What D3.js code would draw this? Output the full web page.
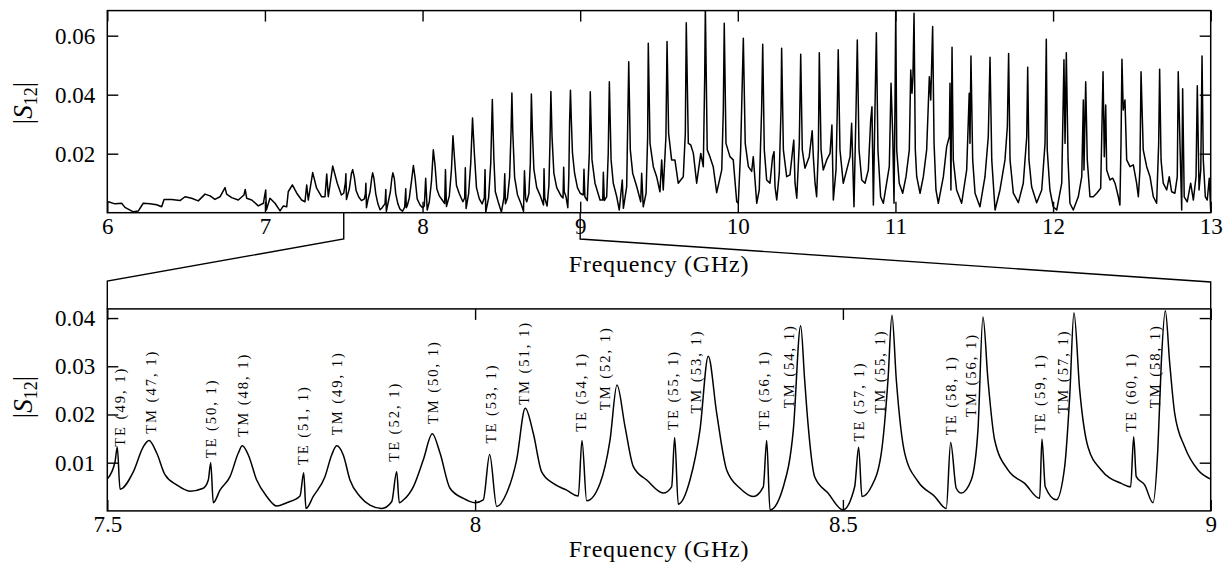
<!DOCTYPE html>
<html>
<head>
<meta charset="utf-8">
<script src="https://cdn.jsdelivr.net/npm/d3@7"></script>
<style>
  body { margin: 0; background: #fff; }
  svg { display: block; }
</style>
</head>
<body>
<svg id="chart" width="1228" height="564"></svg>
<script>
// Measured transmission |S12| versus frequency (GHz), stored as [frequency, |S12|].
// 6 – 7.5 GHz
const lowBand = [
  [6.000,0.0038],[6.006,0.0037],[6.049,0.0030],[6.091,0.0032],[6.112,0.0018],[6.165,0.0003],
  [6.197,0.0006],[6.228,0.0032],[6.271,0.0030],[6.313,0.0027],[6.345,0.0020],[6.360,0.0045],
  [6.409,0.0045],[6.461,0.0041],[6.493,0.0054],[6.535,0.0049],[6.577,0.0040],[6.620,0.0063],
  [6.652,0.0057],[6.683,0.0045],[6.715,0.0054],[6.747,0.0085],[6.757,0.0063],[6.789,0.0051],
  [6.831,0.0043],[6.867,0.0060],[6.875,0.0079],[6.884,0.0049],[6.916,0.0043],[6.958,0.0023],
  [6.990,0.0032],[7.005,0.0077],[7.009,0.0009],[7.032,0.0049],[7.064,0.0032],[7.096,0.0006],
  [7.117,0.0023],[7.138,0.0020],[7.148,0.0071],[7.174,0.0094],[7.202,0.0066],[7.233,0.0043],
  [7.254,0.0037],[7.265,0.0094],[7.275,0.0043],[7.303,0.0136],[7.328,0.0083],[7.360,0.0054],
  [7.381,0.0054],[7.392,0.0131],[7.402,0.0054],[7.430,0.0158],[7.459,0.0100],[7.485,0.0060]
];

// 7.5 – 9 GHz (shown enlarged in the lower panel)
const zoomBand = [
  [7.5000,0.0066],[7.5105,0.0102],[7.5136,0.0132],[7.5173,0.0045],[7.5353,0.0081],[7.5489,0.0133],
  [7.5567,0.0146],[7.5672,0.0120],[7.5784,0.0075],[7.5943,0.0054],[7.6124,0.0041],[7.6305,0.0047],
  [7.6373,0.0064],[7.6406,0.0100],[7.6441,0.0017],[7.6532,0.0043],[7.6668,0.0071],[7.6781,0.0120],
  [7.6835,0.0135],[7.6917,0.0116],[7.7031,0.0064],[7.7167,0.0030],[7.7303,0.0010],[7.7439,0.0017],
  [7.7620,0.0031],[7.7670,0.0079],[7.7701,0.0005],[7.7800,0.0030],[7.7959,0.0071],[7.8050,0.0116],
  [7.8118,0.0135],[7.8208,0.0116],[7.8299,0.0064],[7.8435,0.0030],[7.8571,0.0012],[7.8730,0.0005],
  [7.8866,0.0019],[7.8934,0.0081],[7.8969,0.0017],[7.9020,0.0022],[7.9160,0.0050],[7.9296,0.0106],
  [7.9418,0.0160],[7.9523,0.0120],[7.9659,0.0047],[7.9840,0.0026],[7.9999,0.0017],[8.0111,0.0023],
  [8.0198,0.0117],[8.0294,0.0009],[8.0429,0.0037],[8.0565,0.0106],[8.0682,0.0213],[8.0791,0.0161],
  [8.0905,0.0081],[8.1063,0.0057],[8.1245,0.0043],[8.1403,0.0031],[8.1453,0.0146],[8.1517,0.0021],
  [8.1698,0.0057],[8.1834,0.0147],[8.1929,0.0261],[8.2038,0.0175],[8.2151,0.0092],[8.2333,0.0064],
  [8.2558,0.0037],[8.2672,0.0050],[8.2713,0.0152],[8.2762,0.0014],[8.2921,0.0064],[8.3057,0.0168],
  [8.3170,0.0321],[8.3284,0.0203],[8.3420,0.0085],[8.3601,0.0047],[8.3782,0.0030],[8.3918,0.0050],
  [8.3964,0.0146],[8.4009,0.0002],[8.4190,0.0050],[8.4326,0.0168],[8.4426,0.0384],[8.4480,0.0272],
  [8.4525,0.0182],[8.4616,0.0071],[8.4797,0.0037],[8.5001,0.0002],[8.5160,0.0050],[8.5214,0.0132],
  [8.5259,0.0030],[8.5386,0.0050],[8.5522,0.0120],[8.5613,0.0272],[8.5667,0.0406],[8.5726,0.0272],
  [8.5840,0.0120],[8.6021,0.0061],[8.6248,0.0030],[8.6405,0.0005],[8.6465,0.0142],[8.6541,0.0047],
  [8.6609,0.0037],[8.6745,0.0064],[8.6836,0.0168],[8.6904,0.0402],[8.6972,0.0272],[8.7063,0.0147],
  [8.7244,0.0085],[8.7471,0.0057],[8.7675,0.0026],[8.7706,0.0149],[8.7751,0.0050],[8.7900,0.0023],
  [8.8015,0.0092],[8.8083,0.0237],[8.8141,0.0411],[8.8219,0.0251],[8.8331,0.0133],[8.8512,0.0085],
  [8.8784,0.0057],[8.8912,0.0050],[8.8953,0.0154],[8.8988,0.0071],[8.9102,0.0054],[8.9215,0.0017],
  [8.9283,0.0133],[8.9328,0.0306],[8.9383,0.0415],[8.9443,0.0306],[8.9510,0.0203],[8.9646,0.0133],
  [8.9827,0.0085],[9.0000,0.0066]
];

// 9 – 13 GHz
const highBand = [
  [9.020,0.0060],[9.024,0.0147],[9.030,0.0054],[9.045,0.0041],[9.058,0.0201],[9.064,0.0410],
  [9.075,0.0179],[9.094,0.0100],[9.126,0.0043],[9.143,0.0043],[9.147,0.0137],[9.153,0.0041],
  [9.168,0.0054],[9.178,0.0201],[9.185,0.0444],[9.196,0.0179],[9.210,0.0100],[9.232,0.0054],
  [9.248,0.0009],[9.267,0.0111],[9.274,0.0015],[9.295,0.0088],[9.308,0.0512],[9.318,0.0213],
  [9.333,0.0134],[9.359,0.0088],[9.384,0.0037],[9.390,0.0134],[9.400,0.0020],[9.418,0.0066],
  [9.428,0.0258],[9.432,0.0574],[9.443,0.0235],[9.464,0.0156],[9.485,0.0122],[9.506,0.0071],
  [9.517,0.0179],[9.527,0.0077],[9.544,0.0258],[9.551,0.0580],[9.561,0.0269],[9.580,0.0179],
  [9.601,0.0179],[9.622,0.0100],[9.654,0.0122],[9.667,0.0269],[9.673,0.0644],[9.686,0.0235],
  [9.701,0.0230],[9.718,0.0201],[9.739,0.0100],[9.765,0.0201],[9.781,0.0156],[9.790,0.0461],
  [9.794,0.0700],[9.806,0.0213],[9.823,0.0190],[9.844,0.0156],[9.866,0.0068],[9.898,0.0145],
  [9.908,0.0348],[9.914,0.0642],[9.925,0.0235],[9.950,0.0190],[9.971,0.0179],[9.993,0.0037],
  [10.003,0.0032],[10.018,0.0213],[10.035,0.0591],[10.047,0.0235],[10.067,0.0156],[10.088,0.0140],
  [10.098,0.0190],[10.120,0.0032],[10.136,0.0077],[10.151,0.0348],[10.158,0.0571],[10.168,0.0213],
  [10.183,0.0111],[10.204,0.0100],[10.221,0.0190],[10.230,0.0207],[10.236,0.0088],[10.247,0.0043],
  [10.263,0.0134],[10.274,0.0348],[10.278,0.0557],[10.289,0.0213],[10.310,0.0122],[10.331,0.0128],
  [10.348,0.0213],[10.355,0.0246],[10.363,0.0100],[10.374,0.0049],[10.390,0.0235],[10.399,0.0537],
  [10.409,0.0213],[10.426,0.0151],[10.453,0.0190],[10.472,0.0278],[10.479,0.0190],[10.490,0.0100],
  [10.500,0.0054],[10.511,0.0213],[10.517,0.0542],[10.528,0.0213],[10.542,0.0145],[10.564,0.0179],
  [10.585,0.0201],[10.597,0.0297],[10.606,0.0043],[10.623,0.0145],[10.631,0.0348],[10.637,0.0552],
  [10.648,0.0213],[10.669,0.0100],[10.691,0.0145],[10.712,0.0190],[10.722,0.0303],[10.737,0.0020],
  [10.750,0.0348],[10.758,0.0585],[10.769,0.0213],[10.786,0.0111],[10.807,0.0100],[10.828,0.0145],
  [10.843,0.0314],[10.851,0.0359],[10.860,0.0026],[10.870,0.0348],[10.879,0.0610],[10.889,0.0213],
  [10.906,0.0054],[10.923,0.0032],[10.944,0.0100],[10.961,0.0156],[10.972,0.0439],[10.983,0.0258],
  [10.991,0.0032],[10.997,0.0359],[11.002,0.0700],[11.008,0.0213],[11.024,0.0100],[11.046,0.0066],
  [11.067,0.0122],[11.088,0.0213],[11.097,0.0484],[11.105,0.0405],[11.111,0.0461],[11.118,0.0676],
  [11.126,0.0213],[11.135,0.0122],[11.156,0.0066],[11.177,0.0122],[11.198,0.0213],[11.215,0.0461],
  [11.224,0.0382],[11.236,0.0631],[11.245,0.0235],[11.257,0.0077],[11.272,0.0032],[11.304,0.0122],
  [11.325,0.0224],[11.342,0.0258],[11.346,0.0439],[11.352,0.0077],[11.359,0.0561],[11.367,0.0179],
  [11.388,0.0077],[11.420,0.0032],[11.452,0.0145],[11.468,0.0405],[11.473,0.0235],[11.479,0.0531],
  [11.490,0.0179],[11.505,0.0066],[11.536,0.0020],[11.568,0.0122],[11.589,0.0258],[11.600,0.0527],
  [11.611,0.0179],[11.632,0.0009],[11.663,0.0077],[11.695,0.0179],[11.710,0.0292],[11.718,0.0540],
  [11.727,0.0179],[11.748,0.0066],[11.780,0.0034],[11.811,0.0100],[11.833,0.0258],[11.839,0.0493],
  [11.847,0.0179],[11.864,0.0088],[11.896,0.0034],[11.928,0.0077],[11.949,0.0235],[11.957,0.0588],
  [11.963,0.0213],[11.980,0.0077],[12.001,0.0020],[12.023,0.0009],[12.055,0.0100],[12.069,0.0518],
  [12.076,0.0235],[12.084,0.0542],[12.095,0.0179],[12.107,0.0032],[12.128,0.0009],[12.160,0.0054],
  [12.182,0.0122],[12.192,0.0382],[12.196,0.0145],[12.207,0.0444],[12.217,0.0179],[12.234,0.0054],
  [12.255,0.0054],[12.277,0.0066],[12.302,0.0083],[12.310,0.0292],[12.317,0.0478],[12.325,0.0190],
  [12.334,0.0365],[12.340,0.0145],[12.361,0.0111],[12.378,0.0117],[12.393,0.0100],[12.414,0.0054],
  [12.424,0.0026],[12.431,0.0235],[12.437,0.0520],[12.445,0.0348],[12.456,0.0382],[12.467,0.0179],
  [12.488,0.0156],[12.509,0.0162],[12.530,0.0100],[12.541,0.0054],[12.551,0.0145],[12.558,0.0478],
  [12.566,0.0325],[12.572,0.0213],[12.594,0.0156],[12.615,0.0122],[12.636,0.0054],[12.657,0.0032],
  [12.670,0.0235],[12.676,0.0486],[12.685,0.0179],[12.699,0.0100],[12.721,0.0077],[12.737,0.0122],
  [12.752,0.0071],[12.773,0.0066],[12.788,0.0122],[12.794,0.0478],[12.805,0.0235],[12.816,0.0009],
  [12.822,0.0420],[12.832,0.0054],[12.851,0.0037],[12.873,0.0100],[12.890,0.0043],[12.907,0.0122],
  [12.915,0.0430],[12.926,0.0077],[12.937,0.0145],[12.945,0.0531],[12.953,0.0179],[12.966,0.0054],
  [12.978,0.0043],[12.991,0.0117],[13.000,0.0009]
];

// Mode identifications in the 7.5 – 9 GHz window: label and anchor (frequency, |S12|)
const modeNames = [
  "TE (49, 1)","TM (47, 1)","TE (50, 1)","TM (48, 1)","TE (51, 1)","TM (49, 1)",
  "TE (52, 1)","TM (50, 1)","TE (53, 1)","TM (51, 1)","TE (54, 1)","TM (52, 1)",
  "TE (55, 1)","TM (53, 1)","TE (56, 1)","TM (54, 1)","TE (57, 1)","TM (55, 1)",
  "TE (58, 1)","TM (56, 1)","TE (59, 1)","TM (57, 1)","TE (60, 1)","TM (58, 1)"
];
const modeFreq = [
  7.5173,7.5590,7.6406,7.6841,7.7664,7.8127,7.8901,7.9432,8.0212,8.0665,8.1436,8.1766,
  8.2686,8.3003,8.3927,8.4271,8.5214,8.5500,8.6465,8.6745,8.7675,8.7992,8.8912,8.9238
];
const modeLevel = [
  0.0133,0.0160,0.0109,0.0154,0.0095,0.0157,0.0102,0.0180,0.0140,0.0220,0.0164,0.0209,
  0.0168,0.0202,0.0168,0.0213,0.0144,0.0202,0.0157,0.0195,0.0161,0.0202,0.0164,0.0213
];

// Axis ticks
const topFreqTicks = [6, 7, 8, 9, 10, 11, 12, 13];
const topS12Ticks = [0.02, 0.04, 0.06];
const zoomFreqTicks = [7.5, 8, 8.5, 9];
const zoomS12Ticks = [0.01, 0.02, 0.03, 0.04];

// ---------------------------------------------------------------------------
const SERIF = "Liberation Serif";
const svg = d3.select("#chart");

const left = 107.3, right = 1210.7;
const xTop = d3.scaleLinear().domain([6, 13]).range([left, right]);
const yTop = d3.scaleLinear().domain([0, 0.0685]).range([212.7, 10.6]);
const xBot = d3.scaleLinear().domain([7.5, 9]).range([left, right]);
const yBot = d3.scaleLinear().domain([0, 0.0419]).range([510.9, 308.9]);

function panel(id, x, y, freqTicks, s12Ticks, fmtX, fmtY) {
  const [y0, y1] = y.range();          // bottom, top
  const [x0, x1] = x.range();
  svg.append("clipPath").attr("id", id)
    .append("rect").attr("x", x0).attr("y", y1).attr("width", x1 - x0).attr("height", y0 - y1);

  const g = svg.append("g");
  const tick = 11;
  const styleAxis = a => {
    a.select(".domain").remove();
    a.attr("font-family", null).attr("font-size", null)
      .style("font-family", SERIF).style("font-size", "23px");
    a.selectAll(".tick line").attr("stroke", "#000").attr("stroke-width", 1.4);
    a.selectAll("text").attr("fill", "#000");
  };
  g.append("g").attr("transform", `translate(0,${y0})`)
    .call(d3.axisBottom(x).tickValues(freqTicks).tickSize(-tick).tickPadding(5).tickFormat(fmtX))
    .call(styleAxis);
  g.append("g").attr("transform", `translate(0,${y1})`)
    .call(d3.axisTop(x).tickValues(freqTicks).tickSize(-tick).tickFormat(""))
    .call(styleAxis);
  g.append("g").attr("transform", `translate(${x0},0)`)
    .call(d3.axisLeft(y).tickValues(s12Ticks).tickSize(-tick).tickPadding(12).tickFormat(fmtY))
    .call(styleAxis);
  g.append("g").attr("transform", `translate(${x1},0)`)
    .call(d3.axisRight(y).tickValues(s12Ticks).tickSize(-tick).tickFormat(""))
    .call(styleAxis);

  g.append("rect").attr("x", x0).attr("y", y1).attr("width", x1 - x0).attr("height", y0 - y1)
    .attr("fill", "none").attr("stroke", "#000").attr("stroke-width", 1.5);
  return g;
}

// Upper panel: full band
panel("clipTop", xTop, yTop, topFreqTicks, topS12Ticks, d3.format("d"), d3.format(".2f"));
const fullSpectrum = lowBand.concat(zoomBand, highBand);
svg.append("path")
  .datum(fullSpectrum)
  .attr("clip-path", "url(#clipTop)")
  .attr("fill", "none").attr("stroke", "#000").attr("stroke-width", 1.5)
  .attr("stroke-linejoin", "round")
  .attr("d", d3.line().x(d => xTop(d[0])).y(d => yTop(d[1])));

// Lower panel: enlarged window
const fmtZoom = d => (d === 8 || d === 9) ? String(d) : d3.format(".1f")(d);
panel("clipBot", xBot, yBot, zoomFreqTicks, zoomS12Ticks, fmtZoom, d3.format(".2f"));
svg.append("path")
  .datum(zoomBand)
  .attr("clip-path", "url(#clipBot)")
  .attr("fill", "none").attr("stroke", "#000").attr("stroke-width", 1.5)
  .attr("stroke-linejoin", "round")
  .attr("d", d3.line().curve(d3.curveMonotoneX).x(d => xBot(d[0])).y(d => yBot(d[1])));

// Lines linking the window in the upper panel to the lower panel
const winLo = zoomFreqTicks[0], winHi = zoomFreqTicks[zoomFreqTicks.length - 1];
const link = d3.line();
[[winLo, 239, 281], [winHi, 239, 282]].forEach(([f, yk, yj]) => {
  svg.append("path")
    .attr("d", link([[xTop(f), yTop(0)], [xTop(f), yk], [xBot(f), yj], [xBot(f), yBot.range()[1]]]))
    .attr("fill", "none").attr("stroke", "#000").attr("stroke-width", 1.4);
});

// Axis titles
function freqTitle(y) {
  svg.append("text").attr("x", (left + right) / 2).attr("y", y)
    .attr("text-anchor", "middle")
    .style("font-family", SERIF).style("font-size", "24px").style("letter-spacing", "0.8px")
    .text("Frequency (GHz)");
}
freqTitle(272);
freqTitle(557);

function s12Title(cy) {
  const t = svg.append("text")
    .attr("transform", `translate(32,${cy}) rotate(-90)`)
    .attr("text-anchor", "middle")
    .style("font-family", SERIF).style("font-size", "27px");
  t.append("tspan").text("|");
  t.append("tspan").style("font-style", "italic").text("S");
  t.append("tspan").style("font-size", "18px").attr("dy", 5).text("12");
  t.append("tspan").attr("dy", -5).text("|");
}
s12Title(103);
s12Title(397);

// Mode labels, written upward from just above each resonance
svg.append("g")
  .style("font-family", SERIF).style("font-size", "14.5px").style("letter-spacing", "2px")
  .selectAll("text")
  .data(modeNames)
  .join("text")
  .attr("transform", (d, i) => `translate(${xBot(modeFreq[i])},${yBot(modeLevel[i])}) rotate(-90)`)
  .attr("text-anchor", "start")
  .attr("dominant-baseline", "central")
  .text(d => d);
</script>
</body>
</html>
